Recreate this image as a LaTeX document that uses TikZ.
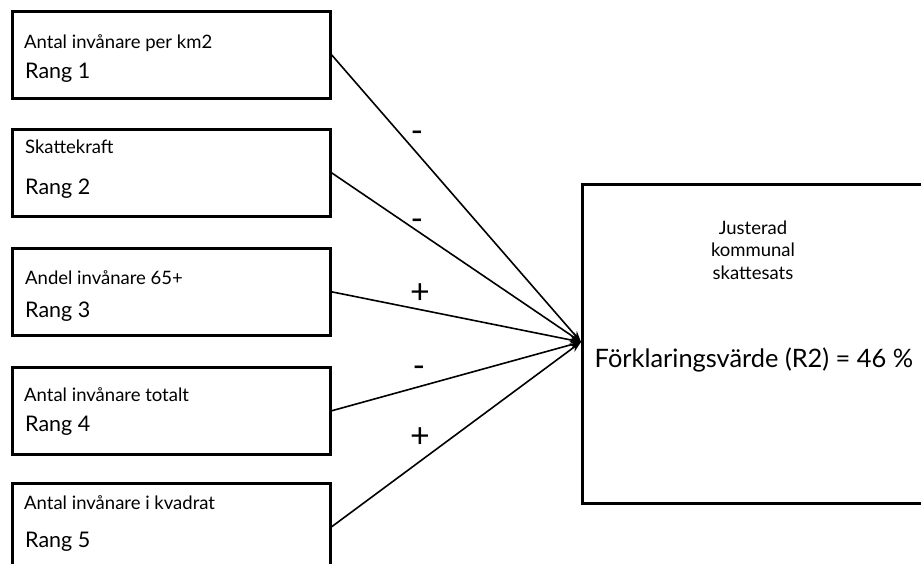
\documentclass[tikz,border=0pt]{standalone}
\usepackage{fontspec}
\setmainfont{Lato}
\usepackage{tikz}
\usetikzlibrary{arrows.meta}

\tikzset{
  faktor/.style={draw, line width=2.6pt, minimum width=318pt, minimum height=87pt, anchor=north west, inner sep=0pt},
  utfall/.style={draw, line width=2.6pt, minimum width=344pt, minimum height=319pt, anchor=north west, inner sep=0pt},
  small/.style={anchor=west, inner sep=0pt, font=\fontsize{18.5}{21}\selectfont},
  rang/.style={anchor=west, inner sep=0pt, font=\fontsize{21.5}{24}\selectfont},
  sign/.style={inner sep=0pt, font=\fontsize{34}{36}\selectfont},
  pil/.style={line width=1.6pt, -{Stealth[length=11pt,width=8pt]}}
}

\begin{document}
\begin{tikzpicture}[x=1pt, y=-1pt]
      \useasboundingbox (0,0) rectangle (921,563);

      \node[faktor](b1) at (11, 10)  {};
      \node[faktor](b2) at (11, 128) {};
      \node[faktor](b3) at (11, 247) {};
      \node[faktor](b4) at (11, 366) {};
      \node[faktor](b5) at (11, 482) {};
      \node[utfall](y)  at (581, 183) {};

      \node[small](t1) at (24, 43)  {Antal invånare per km2};
      \node[rang] (r1) at (25, 73)  {Rang 1};
      \node[small](t2) at (25, 147) {Skattekraft};
      \node[rang] (r2) at (25, 189) {Rang 2};
      \node[small](t3) at (25, 278) {Andel invånare 65+};
      \node[rang] (r3) at (25, 312) {Rang 3};
      \node[small](t4) at (24, 395) {Antal invånare totalt};
      \node[rang] (r4) at (25, 426) {Rang 4};
      \node[small](t5) at (24, 503) {Antal invånare i kvadrat};
      \node[rang] (r5) at (25, 542) {Rang 5};

      \node[align=center, inner sep=0pt, font=\fontsize{18.5}{22.5}\selectfont](yt) at (753, 250)
            {Justerad\\kommunal\\skattesats};
      \node[inner sep=0pt, font=\fontsize{25.4}{28}\selectfont](r2v) at (754, 360)
            {Förklaringsvärde (R2) = 46 \%};

      \coordinate(tip) at (y.west |- 0,342);

      \draw[pil](b1.east) -- (tip);
      \draw[pil](b2.east) -- (tip);
      \draw[pil](b3.east) -- (tip);
      \draw[pil](b4.east) -- (tip);
      \draw[pil](b5.east) -- (tip);

      \node[sign](s1) at (417, 137) {-};
      \node[sign](s2) at (417, 225) {-};
      \node[sign](s3) at (420, 294) {+};
      \node[sign](s4) at (419, 372) {-};
      \node[sign](s5) at (420, 438) {+};
    \end{tikzpicture}
\end{document}
